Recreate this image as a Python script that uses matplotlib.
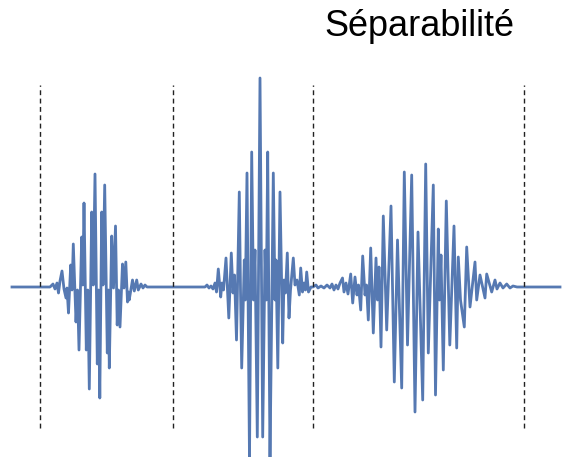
import matplotlib
matplotlib.use("Agg")
import matplotlib.pyplot as plt

# Waveform vertices: position along the trace and
# displacement from the baseline (positive = up), one list pair per burst
burst1_t = [12, 50, 53, 55, 57, 58.5, 60, 62, 64, 66, 67, 68.5, 70.7, 72, 73.3,
            76, 77.5, 79, 81.7, 82.8, 84, 86.3, 87.8, 89.3, 91.7, 93.3, 95, 97.3,
            98.5, 99.8, 101.7, 103, 104.7, 107.3, 108.3, 109.3, 111.7, 113.5,
            115.5, 117.2, 118.5, 120, 122.5, 124, 125.8, 127.5, 128.2, 129.2,
            132.5, 134.3, 136.7, 138.3, 141, 143, 145, 147, 172]
burst1_a = [0, 0, 3, -2, 4, -6, 6, 16, -2, -11, -1, -26, 22, -3, 43,
            -35, -3, -63, 50, 2, 84, -63, -3, -102, 75, 2, 113, -77,
            -3, -111, 75, 2, 102, -66, -3, -81, 51, -1,
            61, -38, -3, -40, 23, -1, 25, -15, -5, -13,
            7, -4, 7, -3, 3, -1, 2, 0, 0]

burst2_t = [205, 207, 209, 211, 213, 215, 216.5, 218.3, 220.7, 222, 223.5, 226,
            228.8, 231.3, 233, 234.5, 236.5, 239.3, 240.5, 241.7, 244.3, 245.3,
            247, 249.5, 251.7, 253.5, 255, 257.3, 260, 262.7, 265, 266.3, 267.7,
            270, 273.3, 275, 276, 277.8, 280, 282.7, 284, 285.5, 287.3, 289,
            290.5, 293.3, 295, 297, 299.3, 300.7, 302.5, 304, 305.5, 306.7,
            308.5, 311]
burst2_a = [0, 2, -1, 1, -2, 4, -5, 18, -10, 4, -3, 29,
            -31, 34, -6, 12, -53, 95, -3, -81, 27, -13,
            114, -173, 135, -13, 37, -150, 209, -150, 37, -13, 135,
            -173, 114, -13, 27, -81, 95, -56, 7, -6, 34, -31,
            -3, 29, 2, 7, -8, 19, -5, 4, -3, 15,
            -5, 0]

burst3_t = [313, 316, 318, 321, 324, 327, 330, 332, 334, 336, 338, 340, 342.5,
            344, 346, 348, 350.7, 352.7, 355, 357, 358.5, 360.7, 362.7, 365,
            366.5, 368.3, 370.7, 373.3, 376, 377.5, 379, 381, 383.3, 386.7, 391,
            394.3, 397.5, 401.7, 404.3, 407.5, 411.7, 415, 418, 422.7, 425.7,
            428.3, 433.3, 435.5, 438.3, 439.5, 441, 443.3, 446.3, 449.8, 454,
            456.7, 458.3, 460.5, 464.3, 466.7, 470, 475, 476.7, 480, 485, 486.7,
            491.7, 495, 497, 500, 503, 506.7, 510, 513, 517, 560]
burst3_a = [0, 2, -1, 1, -1, 2, -1, 3, -3, 2, -2, 4, 9,
            -5, 4, -7, 13, -16, 10, -8, 2, -23, 31, -8,
            2, -33, 39, -46, 29, -13, 20, -60, 71, -43, 81,
            -95, 47, -101, 115, -58, 112, -125, 55, -113, 123,
            -66, 102, -108, 58, -13, 32, -83, 86, -58, 61,
            -61, 30, -13, -40, 40, -20, 25, -13, 12, -11, 13,
            -5, 7, -2, 4, -1, 3, -1, 1, 0, 0]

# borders between the bursts
separators = [40, 173, 313, 524]
title = "Séparabilité"

fig = plt.figure(figsize=(5.62, 4.57), dpi=100)
ax = fig.add_axes([0, 0, 1, 1])

t = burst1_t + burst2_t + burst3_t
a = burst1_a + burst2_a + burst3_a
ax.plot(t, a, color="#5679b2", lw=2.0, solid_joinstyle="round")

ax.vlines(separators, -141, 202, colors="#222222", lw=1.0,
          linestyles=(0, (3.5, 2.5)))

ax.text(419, 260, title, ha="center", va="center", fontsize=26,
        family="Liberation Sans", color="black")

ax.set_xlim(0, 562)
ax.set_ylim(-170, 287)
ax.axis("off")

fig.savefig("out.png", dpi=100)
plt.close(fig)
